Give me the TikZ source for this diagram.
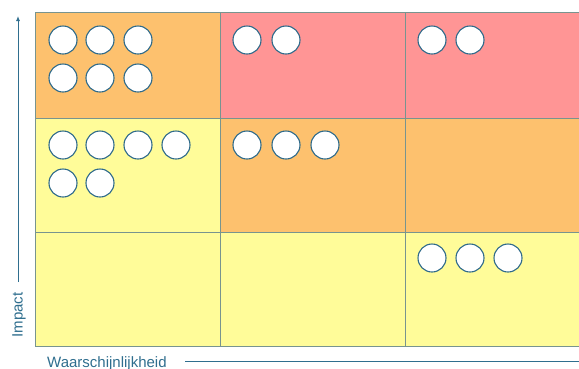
\documentclass[tikz,border=0pt]{standalone}
\usepackage{fontspec}
\setmainfont{Liberation Sans}
\usetikzlibrary{arrows.meta}
\definecolor{cOrange}{HTML}{FDC16E}
\definecolor{cRed}{HTML}{FF9595}
\definecolor{cYellow}{HTML}{FFFC99}
\definecolor{cGrid}{HTML}{78948F}
\definecolor{cRing}{HTML}{2E6A8A}
\definecolor{cAxis}{HTML}{2F6E8E}
\tikzset{
  cell/.style={draw=cGrid, line width=0.9pt},
  risk/.style={circle, draw=cRing, fill=white, line width=1.1pt, minimum size=28pt, inner sep=0pt},
  axislbl/.style={text=cAxis, font=\fontsize{15}{17}\selectfont, inner sep=0pt},
  axisline/.style={draw=cAxis, line width=0.9pt}
}
\begin{document}
\begin{tikzpicture}[x=1pt,y=-1pt]
\useasboundingbox (0,0) rectangle (579,368);
% cells
\path[cell, fill=cOrange] (35,12) rectangle (220,118);
\path[cell, fill=cRed] (220,12) rectangle (405,118);
\path[cell, fill=cRed] (405,12) rectangle (595,118);
\path[cell, fill=cYellow] (35,118) rectangle (220,232);
\path[cell, fill=cOrange] (220,118) rectangle (405,232);
\path[cell, fill=cOrange] (405,118) rectangle (595,232);
\path[cell, fill=cYellow] (35,232) rectangle (220,346);
\path[cell, fill=cYellow] (220,232) rectangle (405,346);
\path[cell, fill=cYellow] (405,232) rectangle (595,346);
% risks top-left
\node[risk] (a1) at (63,40) {};
\node[risk] (a2) at (100,40) {};
\node[risk] (a3) at (138,40) {};
\node[risk] (a4) at (63,78) {};
\node[risk] (a5) at (100,78) {};
\node[risk] (a6) at (138,78) {};
% top-middle
\node[risk] (b1) at (247,40) {};
\node[risk] (b2) at (286,40) {};
% top-right
\node[risk] (c1) at (432,40) {};
\node[risk] (c2) at (470,40) {};
% middle-left
\node[risk] (d1) at (63,145) {};
\node[risk] (d2) at (100,145) {};
\node[risk] (d3) at (138,145) {};
\node[risk] (d4) at (176,145) {};
\node[risk] (d5) at (63,183) {};
\node[risk] (d6) at (100,183) {};
% middle-middle
\node[risk] (e1) at (247,145) {};
\node[risk] (e2) at (286,145) {};
\node[risk] (e3) at (325,145) {};
% bottom-right
\node[risk] (f1) at (432,258) {};
\node[risk] (f2) at (470,258) {};
\node[risk] (f3) at (508,258) {};
% axes
\coordinate (ylo) at (18,282);
\coordinate (yhi) at (18,16);
\draw[axisline, -{Latex[length=5pt,width=4pt]}] (ylo) -- (yhi);
\node[axislbl, rotate=90] (ylab) at (19,315) {Impact};
\coordinate (xlo) at (185,361);
\coordinate (xhi) at (600,361);
\draw[axisline] (xlo) -- (xhi);
\node[axislbl, anchor=base west] (xlab) at (47,367) {Waarschijnlijkheid};
\end{tikzpicture}
\end{document}
